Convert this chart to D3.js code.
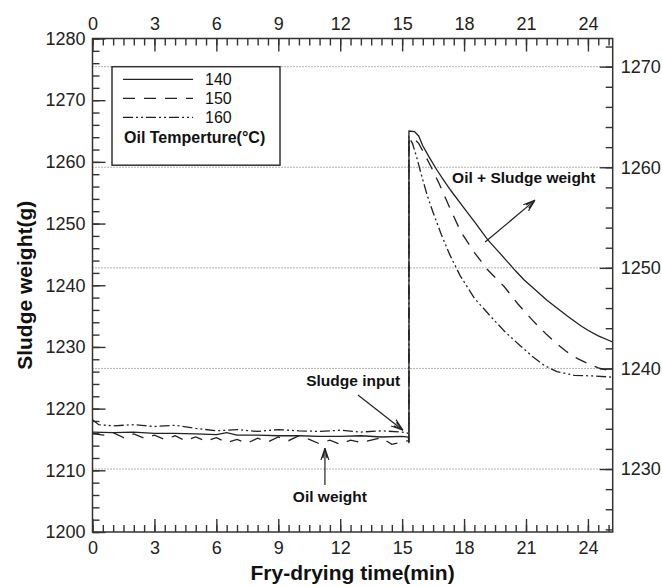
<!DOCTYPE html>
<html>
<head>
<meta charset="utf-8">
<script src="https://cdn.jsdelivr.net/npm/d3@7"></script>
<style>
  body { margin: 0; background: #fff; }
  svg { display: block; font-family: "Liberation Sans", Arial, sans-serif; }
  .axis text { font-size: 18px; fill: #222; }
  .axis line { stroke: #333; stroke-width: 1.4; }
  .axis path { display: none; }
  .grid line { stroke: #666; stroke-width: 1; stroke-dasharray: 1,2; }
  .curve { fill: none; stroke: #222; stroke-width: 1.3; }
  .note { font-weight: bold; font-size: 15.5px; fill: #111; }
  .arrow { stroke: #222; stroke-width: 1.2; fill: none; }
</style>
</head>
<body>
<svg></svg>
<script>
const xTicks = [0, 3, 6, 9, 12, 15, 18, 21, 24],
      leftTicks = [1200, 1210, 1220, 1230, 1240, 1250, 1260, 1270, 1280],
      rightTicks = [1230, 1240, 1250, 1260, 1270],
      tempLabels = ['140', '150', '160'];

// 140 C (solid)
const time140 = [0, 1, 2, 3, 4, 5, 6, 6.5, 7, 8, 9, 10, 11, 12, 13, 14, 15, 15.3, 15.33, 15.33,
                 15.6, 15.8, 16.0, 16.3, 16.7, 17.0, 17.35, 18.0, 18.5, 19.14, 19.6, 20.0,
                 20.5, 20.9, 21.5, 22.0, 22.5, 23.0, 23.67, 24.0, 24.5, 25.2];
const weight140 = [1216.2, 1216.1, 1216.2, 1216.0, 1216.0, 1215.9, 1215.8, 1216.1, 1215.7, 1215.7,
                   1215.6, 1215.6, 1215.5, 1215.5, 1215.6, 1215.4, 1215.5, 1215.4, 1214.4, 1265.0,
                   1264.9, 1264.2, 1262.6, 1260.8, 1258.6, 1257.1, 1255.4, 1252.5, 1250.3, 1247.4,
                   1245.7, 1244.2, 1242.3, 1240.9, 1239.1, 1237.6, 1236.3, 1235.0, 1233.4, 1232.7,
                   1231.8, 1230.8];

// 150 C (dashed)
const time150 = [0, 0.5, 1, 1.5, 2, 2.5, 3, 3.5, 4, 4.5, 5, 5.5, 6, 6.5, 7, 7.5, 8, 8.5, 9, 9.5,
                 10, 10.5, 11, 11.5, 12, 12.5, 13, 13.5, 14, 14.5, 15, 15.3, 15.33, 15.33,
                 15.6, 15.8, 16.06, 16.4, 16.8, 17.3, 17.84, 18.5, 19.14, 19.94, 20.6, 21.32,
                 22.0, 22.5, 22.94, 23.5, 24.0, 24.5, 25.2];
const weight150 = [1216.0, 1215.7, 1216.1, 1215.3, 1215.9, 1215.2, 1215.7, 1215.0, 1215.6, 1214.8,
                   1215.4, 1214.7, 1215.3, 1214.5, 1215.0, 1214.4, 1215.2, 1214.6, 1215.4, 1214.8,
                   1215.6, 1215.0, 1214.3, 1214.9, 1214.2, 1214.9, 1214.5, 1214.9, 1215.3, 1214.2,
                   1214.6, 1214.8, 1214.6, 1263.8,
                   1263.7, 1263.0, 1261.4, 1259.2, 1256.4, 1252.6, 1248.7, 1245.3, 1242.5, 1239.8,
                   1237.0, 1234.3, 1232.0, 1230.5, 1229.3, 1228.1, 1227.3, 1226.6, 1226.0];

// 160 C (dash-dot-dot)
const time160 = [0, 0.3, 1, 2, 3, 4, 5, 6, 7, 8, 9, 10, 11, 12, 13, 14, 15, 15.3, 15.33, 15.33,
                 15.5, 15.7, 15.9, 16.22, 16.5, 16.9, 17.3, 17.8, 18.5, 19.3, 20.0, 20.75, 21.3,
                 21.88, 22.5, 23.34, 24.2, 25.2];
const weight160 = [1218.2, 1217.4, 1217.2, 1217.4, 1217.1, 1217.3, 1216.8, 1216.4, 1216.6, 1216.3,
                   1216.6, 1216.4, 1216.3, 1216.5, 1216.2, 1216.4, 1216.2, 1216.0, 1215.8, 1264.0,
                   1263.0, 1260.8, 1258.3, 1254.5, 1251.8, 1248.2, 1245.0, 1241.6, 1237.9, 1234.9,
                   1232.4, 1230.1, 1228.5, 1227.0, 1226.0, 1225.4, 1225.3, 1225.1];

const series = [
  { label: tempLabels[0], dash: null, t: time140, w: weight140 },
  { label: tempLabels[1], dash: '12,9', t: time150, w: weight150 },
  { label: tempLabels[2], dash: '10,3,2,3,2,3', t: time160, w: weight160 }
];

const width = 662,
      height = 587,
      plotLeft = 92.5,
      plotRight = 612.7,
      plotTop = 38.5,
      plotBottom = 532,
      fmt = d3.format('d'),
      $svg = d3.select('svg')
               .attr('width', width)
               .attr('height', height);

const x = d3.scaleLinear().domain([0, 25.2]).range([plotLeft, plotRight]),
      yL = d3.scaleLinear().domain([1200, 1280]).range([plotBottom, plotTop]),
      yR = d3.scaleLinear().domain([1223.74, 1272.8]).range([plotBottom, plotTop]);

// dotted gridlines follow the right axis
$svg.append('g')
    .attr('class', 'grid')
  .selectAll('line')
  .data(rightTicks)
  .enter()
  .append('line')
    .attr('x1', plotLeft)
    .attr('x2', plotRight)
    .attr('y1', (d) => yR(d))
    .attr('y2', (d) => yR(d));

// minor ticks
const xMinor = [], yMinor = [], rMinor = [];
for (let v = 0; v <= 25; v += 0.5) xMinor.push(v);
for (let v = 1200; v <= 1280; v += 2) yMinor.push(v);
for (let v = 1224; v <= 1272; v += 2) rMinor.push(v);

$svg.append('g').attr('class', 'axis')
    .attr('transform', `translate(0,${plotBottom})`)
    .call(d3.axisBottom(x).tickValues(xMinor).tickSizeInner(-7).tickSizeOuter(0).tickFormat(''));
$svg.append('g').attr('class', 'axis')
    .attr('transform', `translate(0,${plotTop})`)
    .call(d3.axisTop(x).tickValues(xMinor).tickSizeInner(-7).tickSizeOuter(0).tickFormat(''));
$svg.append('g').attr('class', 'axis')
    .attr('transform', `translate(${plotLeft},0)`)
    .call(d3.axisLeft(yL).tickValues(yMinor).tickSizeInner(-7).tickSizeOuter(0).tickFormat(''));
$svg.append('g').attr('class', 'axis')
    .attr('transform', `translate(${plotRight},0)`)
    .call(d3.axisRight(yR).tickValues(rMinor).tickSizeInner(-7).tickSizeOuter(0).tickFormat(''));

// major ticks with labels
$svg.append('g').attr('class', 'axis')
    .attr('transform', `translate(0,${plotBottom})`)
    .call(d3.axisBottom(x).tickValues(xTicks).tickSizeInner(-13).tickSizeOuter(0).tickPadding(9).tickFormat(fmt));
$svg.append('g').attr('class', 'axis')
    .attr('transform', `translate(0,${plotTop})`)
    .call(d3.axisTop(x).tickValues(xTicks).tickSizeInner(-13).tickSizeOuter(0).tickPadding(9).tickFormat(fmt));
$svg.append('g').attr('class', 'axis')
    .attr('transform', `translate(${plotLeft},0)`)
    .call(d3.axisLeft(yL).tickValues(leftTicks).tickSizeInner(-13).tickSizeOuter(0).tickPadding(7).tickFormat(fmt));
$svg.append('g').attr('class', 'axis')
    .attr('transform', `translate(${plotRight},0)`)
    .call(d3.axisRight(yR).tickValues(rightTicks).tickSizeInner(-13).tickSizeOuter(0).tickPadding(8).tickFormat(fmt));

// frame
$svg.append('rect')
    .attr('x', plotLeft)
    .attr('y', plotTop)
    .attr('width', plotRight - plotLeft)
    .attr('height', plotBottom - plotTop)
    .attr('fill', 'none')
    .attr('stroke', '#333')
    .attr('stroke-width', 1.5);

// curves
const line = d3.line()
  .x((d) => x(d[0]))
  .y((d) => yL(d[1]));

$svg.selectAll('.curve')
  .data(series)
  .enter()
  .append('path')
    .attr('class', 'curve')
    .attr('stroke-dasharray', (d) => d.dash)
    .attr('d', (d) => line(d.t.map((t, i) => [t, d.w[i]])));

// legend
const $legend = $svg.append('g');
$legend.append('rect')
    .attr('x', 112)
    .attr('y', 66.7)
    .attr('width', 168)
    .attr('height', 98.5)
    .attr('fill', '#fff')
    .attr('stroke', '#333')
    .attr('stroke-width', 1.5);

const legendRows = $legend.selectAll('.row')
  .data(series)
  .enter()
  .append('g')
    .attr('class', 'row')
    .attr('transform', (d, i) => `translate(0,${79.3 + i * 19})`);

legendRows.append('line')
    .attr('x1', 123)
    .attr('x2', 193)
    .attr('stroke', '#222')
    .attr('stroke-width', 1.3)
    .attr('stroke-dasharray', (d) => d.dash);

legendRows.append('text')
    .attr('x', 205)
    .attr('dy', '0.35em')
    .style('font-size', '16px')
    .attr('fill', '#111')
    .text((d) => d.label);

$legend.append('text')
    .attr('class', 'note')
    .attr('x', 124)
    .attr('y', 143)
    .style('font-size', '16px')
    .text('Oil Temperture(°C)');

// annotations
$svg.append('defs')
  .append('marker')
    .attr('id', 'open')
    .attr('viewBox', '0 0 12 10')
    .attr('refX', 12)
    .attr('refY', 5)
    .attr('markerWidth', 12)
    .attr('markerHeight', 10)
    .attr('markerUnits', 'userSpaceOnUse')
    .attr('orient', 'auto')
  .append('path')
    .attr('d', 'M0,1 L12,5 L0,9 M2,3 L12,5 L2,7')
    .attr('fill', 'none')
    .attr('stroke', '#222')
    .attr('stroke-width', 1.1);

const notes = [
  { text: 'Sludge input', tx: 14.9, ty: 1223.7, anchor: 'end', from: [12.86, 1222.2], to: [15.04, 1216.5] },
  { text: 'Oil weight', tx: 11.5, ty: 1204.9, anchor: 'middle', from: [11.26, 1207.6], to: [11.26, 1213.6] },
  { text: 'Oil + Sludge weight', tx: 17.42, ty: 1256.6, anchor: 'start', from: [19.02, 1247.0], to: [21.44, 1253.8] }
];

notes.forEach((n) => {
  $svg.append('text')
      .attr('class', 'note')
      .attr('x', x(n.tx))
      .attr('y', yL(n.ty))
      .attr('text-anchor', n.anchor)
      .text(n.text);

  $svg.append('line')
      .attr('class', 'arrow')
      .attr('x1', x(n.from[0]))
      .attr('y1', yL(n.from[1]))
      .attr('x2', x(n.to[0]))
      .attr('y2', yL(n.to[1]))
      .attr('marker-end', 'url(#open)');
});

// axis titles
$svg.append('text')
    .attr('x', (plotLeft + plotRight) / 2)
    .attr('y', 580)
    .attr('text-anchor', 'middle')
    .style('font-size', '21px')
    .style('font-weight', 'bold')
    .attr('fill', '#111')
    .text('Fry-drying time(min)');

$svg.append('text')
    .attr('transform', `translate(32,${(plotTop + plotBottom) / 2}) rotate(-90)`)
    .attr('text-anchor', 'middle')
    .style('font-size', '21px')
    .style('font-weight', 'bold')
    .attr('fill', '#111')
    .text('Sludge weight(g)');
</script>
</body>
</html>
